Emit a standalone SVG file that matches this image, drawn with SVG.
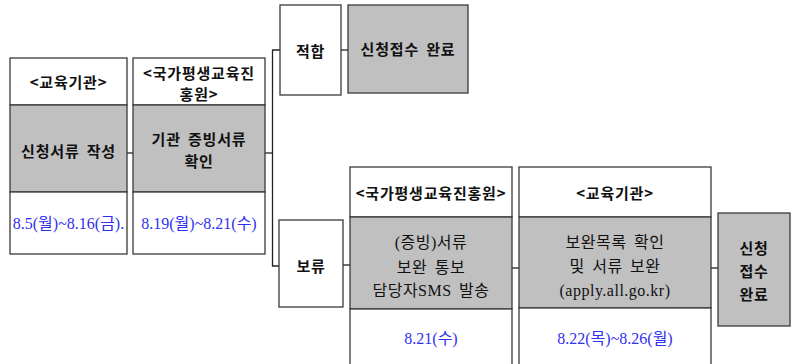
<svg xmlns="http://www.w3.org/2000/svg" width="792" height="364" viewBox="0 0 792 364">
<style>
.w{fill:#fff;stroke:#3a3a3a;stroke-width:1.3}
.g{fill:#c0c0c0;stroke:#3a3a3a;stroke-width:1.3}
.c{fill:none;stroke:#222;stroke-width:1.3}
.t{font-family:"Noto Sans CJK KR","Liberation Sans",sans-serif;font-size:15px;font-weight:bold;fill:#111;text-anchor:middle;dominant-baseline:central;letter-spacing:0.8px;word-spacing:3px}
.n{font-family:"Liberation Serif","Noto Sans CJK KR",serif;font-size:16px;fill:#111;text-anchor:middle;dominant-baseline:central;letter-spacing:0.5px;word-spacing:3px}
.d{font-family:"Liberation Serif","Noto Sans CJK KR",serif;font-size:16px;fill:#3030f0;text-anchor:middle;dominant-baseline:central}
</style>
<rect width="792" height="364" fill="#fff"/>
<g id="connectors">
<line class="c" x1="127" y1="153" x2="133" y2="153"/>
<line class="c" x1="265" y1="153" x2="272.5" y2="153"/>
<polyline class="c" points="280,50 272.5,50 272.5,266 279,266"/>
<line class="c" x1="341" y1="50" x2="348" y2="50"/>
<line class="c" x1="343" y1="265" x2="350" y2="265"/>
<line class="c" x1="512" y1="268" x2="519" y2="268"/>
<line class="c" x1="711" y1="268" x2="718" y2="268"/>
</g>
<g id="node-edu1">
<rect class="w" x="10" y="58" width="117" height="47"/>
<rect class="g" x="10" y="105" width="117" height="87"/>
<rect class="w" x="10" y="192" width="117" height="62"/>
<text class="t" x="68.5" y="81">&lt;교육기관&gt;</text>
<text class="t" x="68.5" y="150">신청서류 작성</text>
<text class="d" x="68.5" y="223">8.5(월)~8.16(금).</text>
</g>
<g id="node-nile1">
<rect class="w" x="133" y="58" width="132" height="47"/>
<rect class="g" x="133" y="105" width="132" height="87"/>
<rect class="w" x="133" y="192" width="132" height="62"/>
<text class="t" x="199" y="72">&lt;국가평생교육진</text>
<text class="t" x="199" y="93">홍원&gt;</text>
<text class="t" x="199" y="138">기관 증빙서류</text>
<text class="t" x="199" y="160">확인</text>
<text class="d" x="199" y="223">8.19(월)~8.21(수)</text>
</g>
<g id="node-ok">
<rect class="w" x="280" y="5" width="61" height="90"/>
<text class="t" x="310.5" y="50">적합</text>
</g>
<g id="node-done1">
<rect class="g" x="348" y="5" width="120" height="88"/>
<text class="t" x="408" y="48">신청접수 완료</text>
</g>
<g id="node-hold">
<rect class="w" x="279" y="220" width="64" height="87"/>
<text class="t" x="311" y="265">보류</text>
</g>
<g id="node-nile2">
<rect class="w" x="350" y="167" width="162" height="50"/>
<rect class="g" x="350" y="217" width="162" height="92"/>
<rect class="w" x="350" y="309" width="162" height="70"/>
<text class="t" x="431" y="192">&lt;국가평생교육진홍원&gt;</text>
<text class="n" x="431" y="242">(증빙)서류</text>
<text class="n" x="431" y="267">보완 통보</text>
<text class="n" x="431" y="290">담당자SMS 발송</text>
<text class="d" x="431" y="338">8.21(수)</text>
</g>
<g id="node-edu2">
<rect class="w" x="519" y="167" width="192" height="50"/>
<rect class="g" x="519" y="217" width="192" height="91"/>
<rect class="w" x="519" y="308" width="192" height="70"/>
<text class="t" x="615" y="192">&lt;교육기관&gt;</text>
<text class="n" x="615" y="242">보완목록 확인</text>
<text class="n" x="615" y="266">및 서류 보완</text>
<text class="n" x="615" y="290">(apply.all.go.kr)</text>
<text class="d" x="615" y="338">8.22(목)~8.26(월)</text>
</g>
<g id="node-done2">
<rect class="g" x="718" y="213" width="72" height="113"/>
<text class="t" x="754" y="247">신청</text>
<text class="t" x="754" y="270">접수</text>
<text class="t" x="754" y="293">완료</text>
</g>
</svg>
